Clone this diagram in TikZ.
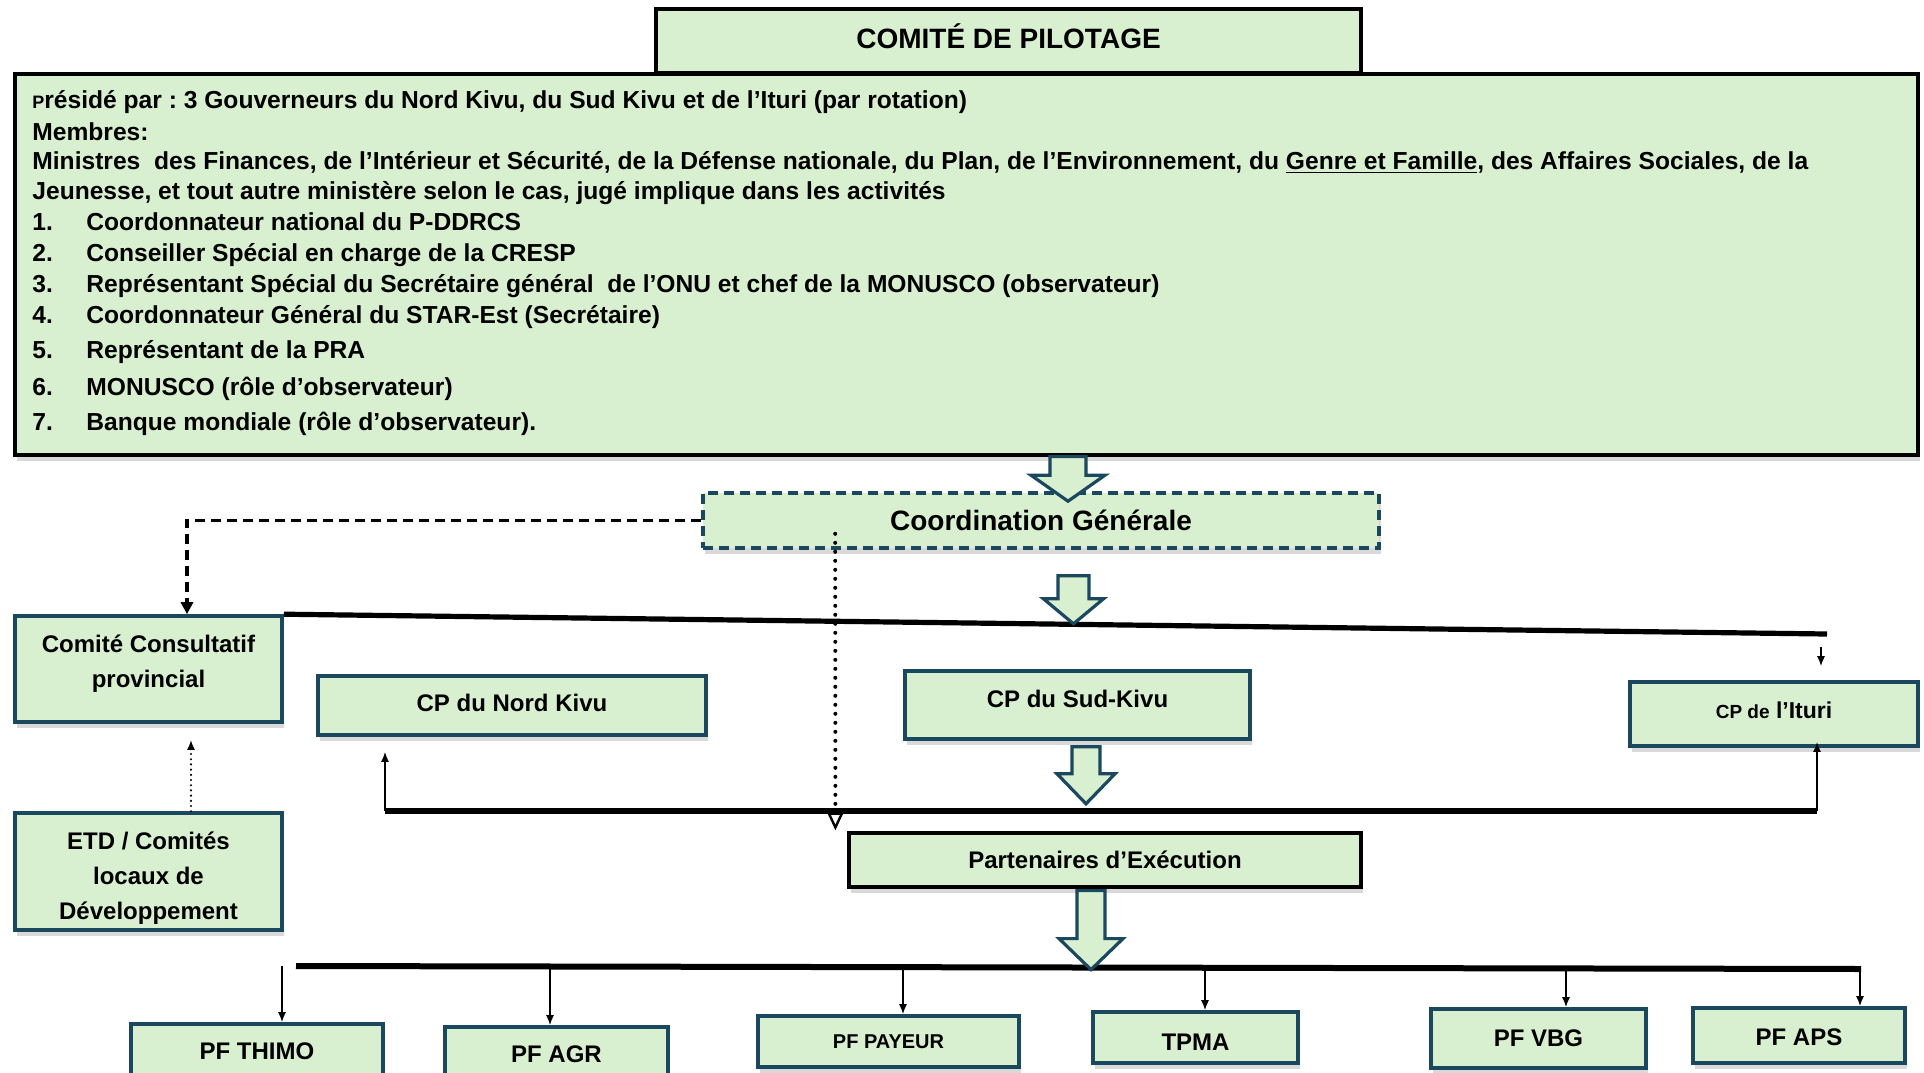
\documentclass[tikz,border=0pt]{standalone}
\usepackage{fontspec}
\setmainfont{Liberation Sans}
\usepackage{tikz}
\usetikzlibrary{positioning}
\usetikzlibrary{calc}
\usetikzlibrary{arrows.meta}
\usetikzlibrary{shadows}
\definecolor{boxfill}{RGB}{216,240,208}
\definecolor{edgeteal}{RGB}{26,72,94}
\frenchspacing

\begin{document}
\begin{tikzpicture}[x=0.5pt, y=-0.5pt,
    box/.style={draw=edgeteal, line width=1.8pt, fill=boxfill, inner sep=0pt, align=center,
      font=\bfseries\fontsize{12}{17.5}\selectfont,
      drop shadow={opacity=0.3, shadow xshift=1pt, shadow yshift=-3pt}},
    blackbox/.style={box, draw=black, line width=1.6pt},
    memo/.style={anchor=base west, inner sep=0pt, font=\bfseries\fontsize{12.3}{14}\selectfont},
    bus/.style={line width=2.6pt},
    link/.style={line width=0.8pt, -{Latex[length=5pt, width=4pt]}},
    dashlink/.style={line width=1.6pt, dash pattern=on 5pt off 3pt, -{Triangle[length=6pt, width=6pt]}},
    dotlink/.style={line width=2pt, line cap=round, dash pattern=on 0pt off 4.5pt, -{Triangle[open, length=9pt, width=8pt, line width=1.2pt]}},
    etdlink/.style={line width=1.2pt, line cap=round, dash pattern=on 0pt off 2.6pt, -{Latex[length=5pt, width=4pt]}},
    blockarr/.style={draw=edgeteal, line width=1.6pt, fill=boxfill, line join=miter}]

\useasboundingbox (0,0) rectangle (1924,1072);

% comite de pilotage
\node[blackbox, minimum width=352.5pt, minimum height=32pt, text height=10pt, text depth=3pt, font=\bfseries\fontsize{14}{16}\selectfont] (pilot) at (1008.5,41) {COMITÉ DE PILOTAGE};
\node[blackbox, minimum width=951.5pt, minimum height=190.5pt] (main) at (966.5,264.5) {};

\node[memo] (pres) at (32,108) {{\fontsize{9}{10}\selectfont P}résidé par : 3 Gouverneurs du Nord Kivu, du Sud Kivu et de l’Ituri (par rotation)};
\node[memo] (memb) at (32,140) {Membres:};
\node[memo] (mini) at (32,169) {Ministres\ \ des Finances, de l’Intérieur et Sécurité, de la Défense nationale, du Plan, de l’Environnement, du \underline{Genre et Famille}, des Affaires Sociales, de la};
\node[memo] (jeun) at (32,199) {Jeunesse, et tout autre ministère selon le cas, jugé implique dans les activités};
\foreach \n/\y/\t in {1/230/Coordonnateur national du P-DDRCS,
    2/261/Conseiller Spécial en charge de la CRESP,
    3/292/{Représentant Spécial du Secrétaire général\ \ de l’ONU et chef de la MONUSCO (observateur)},
    4/323/Coordonnateur Général du STAR-Est (Secrétaire),
    5/358/Représentant de la PRA,
    6/395/MONUSCO (rôle d’observateur),
    7/430/Banque mondiale (rôle d’observateur).}{
  \node[memo] (num\n) at (32,\y) {\n.};
  \node[memo] (item\n) at (86,\y) {\t};
}

% coordination et comites provinciaux
\node[box, dash pattern=on 5pt off 3pt, minimum width=338pt, minimum height=27.5pt, font=\bfseries\fontsize{14}{16}\selectfont] (cg) at (1041,520.5) {Coordination Générale};
\node[box, minimum width=133.5pt, minimum height=53pt, text height=26.6pt, text depth=8.5pt] (cc) at (148.5,669) {Comité Consultatif\\provincial};
\node[box, minimum width=133.5pt, minimum height=58.5pt, text height=50pt, text depth=2.5pt, below of=cc, node distance=101.25pt] (etd) {ETD / Comités\\locaux de\\Développement};
\node[box, minimum width=194pt, minimum height=29.5pt, text height=8.7pt, text depth=3pt] (nk) at (512,705.5) {CP du Nord Kivu};
\node[box, minimum width=172.5pt, minimum height=34pt, text height=8.7pt, text depth=6pt] (sk) at (1077.5,705) {CP du Sud-Kivu};
\node[box, minimum width=144pt, minimum height=32pt, text height=8.7pt, text depth=4pt, font=\bfseries\fontsize{11.5}{13}\selectfont] (it) at (1774,714) {{\fontsize{9.5}{10}\selectfont CP de} l’Ituri};
\node[blackbox, minimum width=256pt, minimum height=27pt] (pe) at (1105,860) {Partenaires d’Exécution};

% points focaux
\node[box, minimum width=126pt, minimum height=27pt] (thimo) at (257,1051) {PF THIMO};
\node[box, minimum width=111.5pt, minimum height=27.5pt] (agr) at (556.5,1054.5) {PF AGR};
\node[box, minimum width=130.5pt, minimum height=25.5pt, font=\bfseries\fontsize{10}{12}\selectfont] (pay) at (888.5,1041.5) {PF PAYEUR};
\node[box, minimum width=102.5pt, minimum height=25.5pt, text height=12.6pt] (tpma) at (1195.5,1037.5) {TPMA};
\node[box, minimum width=107.5pt, minimum height=29.5pt] (vbg) at (1538.5,1038.5) {PF VBG};
\node[box, minimum width=106pt, minimum height=27.5pt, text height=10.6pt] (aps) at (1799,1035.5) {PF APS};

% lignes
\coordinate (b1e) at (1827,634);
\coordinate (b2w) at (385,811);
\coordinate (b2e) at (1817,811);
\coordinate (b3w) at (296,966);
\coordinate (b3e) at (1861,969);

\draw[bus] (cc.north east) -- (b1e);
\draw[link] ($(b1e)+(-6,13)$) -- ($(it.north)+(47,-14)$);
\draw[bus] (b2w) -- (b2e);
\draw[link] (b2w) -- ($(nk.south)+(-127,15)$);
\draw[link] (b2e) -- ($(it.south)+(43,-6)$);
\draw[bus, line width=3pt] (b3w) -- (b3e);
\foreach \b/\x in {thimo/282, agr/550, pay/903, tpma/1205, vbg/1566, aps/1860}
  \draw[link] (b3w -| \x,0) -- (\b.north -| \x,0);

\draw[dashlink] (cg.west) -| ($(cc.north)+(38.5,0)$);
\draw[dotlink] ($(cg.south west)+(134,-16)$) -- ($(pe.north west)+(-12,-1)$);
\draw[etdlink] ($(etd.north)+(42.5,0)$) -- ($(cc.south)+(42.5,16)$);

% grosses fleches
\coordinate (a1s) at ($(main.south)+(101.5,0)$);
\coordinate (a1t) at ($(cg.north)+(27,10)$);
\coordinate (a2s) at ($(cg.south)+(32.5,26)$);
\coordinate (a2t) at ($(cg.south)+(32.5,74)$);
\coordinate (a3s) at ($(sk.south)+(8.5,6)$);
\coordinate (a3t) at ($(sk.south)+(8.5,63)$);
\coordinate (a4s) at ($(pe.south)+(-14,2)$);
\coordinate (a4t) at ($(pe.south)+(-14,81)$);
\foreach \s/\t/\w/\h/\l in {a1s/a1t/9/18.5/13, a2s/a2t/7.75/15/12.5, a3s/a3t/7/14.5/15, a4s/a4t/7/16/15.5}
  \draw[blockarr] let \p1=(\s), \p2=(\t) in
    (\x1-\w pt,\y1) -- (\x1+\w pt,\y1) -- (\x1+\w pt,\y2+\l pt) -- (\x1+\h pt,\y2+\l pt)
    -- (\x2,\y2) -- (\x1-\h pt,\y2+\l pt) -- (\x1-\w pt,\y2+\l pt) -- cycle;
\end{tikzpicture}
\end{document}
